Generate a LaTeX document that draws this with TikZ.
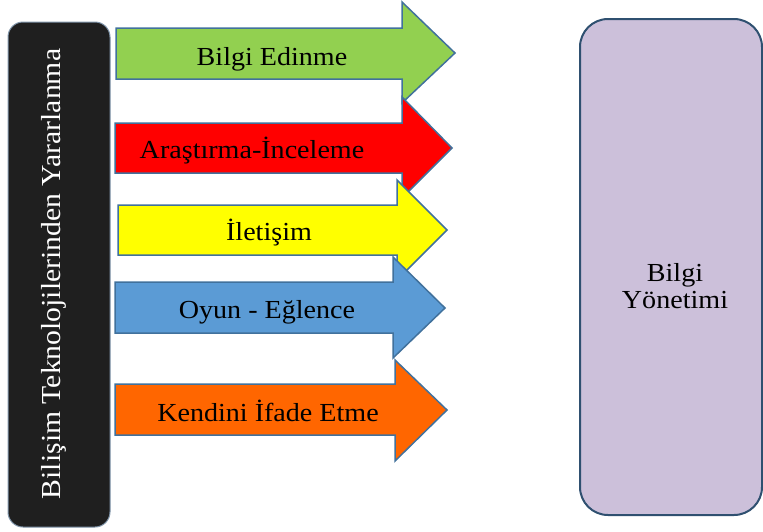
\documentclass[tikz,border=0pt]{standalone}
\usepackage{fontspec}
\setmainfont[FakeStretch=1.08]{Liberation Serif}
\definecolor{arrowline}{HTML}{41719C}
\definecolor{cgreen}{HTML}{92D050}
\definecolor{cred}{HTML}{FF0000}
\definecolor{cyellow}{HTML}{FFFF00}
\definecolor{cblue}{HTML}{5B9BD5}
\definecolor{corange}{HTML}{FF6600}
\definecolor{cdark}{HTML}{1F1F1F}
\definecolor{cdarkline}{HTML}{8095AA}
\definecolor{clilac}{HTML}{CCC0DA}
\definecolor{clilacline}{HTML}{2F5070}
\begin{document}
\begin{tikzpicture}[x=1pt,y=-1pt,
  arrowshape/.style={draw=arrowline,line width=1.5pt,line join=miter},
  lbl/.style={anchor=base,inner sep=0pt,font=\fontsize{26}{28}\selectfont,text=black}]
\useasboundingbox (0,0) rectangle (763,531);
% left box
\draw[fill=cdark,draw=cdarkline,line width=1pt,rounded corners=15pt] (8,22) rectangle (110,527);
\node[lbl,text=white,rotate=90,font=\fontsize{27.5}{29}\selectfont] (left) at (60,274) {Bilişim Teknolojilerinden Yararlanma};
% right box
\draw[fill=clilac,draw=clilacline,line width=2pt,rounded corners=28pt] (580,19) rectangle (762,515);
\node[lbl,align=center] (right) at (675,308) {Bilgi\\[-1pt]Yönetimi};
% arrows
\draw[arrowshape,fill=cgreen] (116,28) -- (402,28) -- (402,2) -- (455,53) -- (402,103) -- (402,79) -- (116,79) -- cycle;
\node[lbl] (a1) at (272,65) {Bilgi Edinme};
\draw[arrowshape,fill=cred] (115,123) -- (402,123) -- (402,97) -- (452,148) -- (402,198) -- (402,173) -- (115,173) -- cycle;
\node[lbl] (a2) at (252,158) {Araştırma-İnceleme};
\draw[arrowshape,fill=cyellow] (118,205) -- (397,205) -- (397,180) -- (447,230) -- (397,280) -- (397,255) -- (118,255) -- cycle;
\node[lbl] (a3) at (269,240) {İletişim};
\draw[arrowshape,fill=cblue] (115,282) -- (393,282) -- (393,257) -- (445,308) -- (393,358) -- (393,333) -- (115,333) -- cycle;
\node[lbl] (a4) at (267,318) {Oyun - Eğlence};
\draw[arrowshape,fill=corange] (115,384) -- (395,384) -- (395,360) -- (447,410) -- (395,461) -- (395,435) -- (115,435) -- cycle;
\node[lbl] (a5) at (268,421) {Kendini İfade Etme};
\end{tikzpicture}
\end{document}
